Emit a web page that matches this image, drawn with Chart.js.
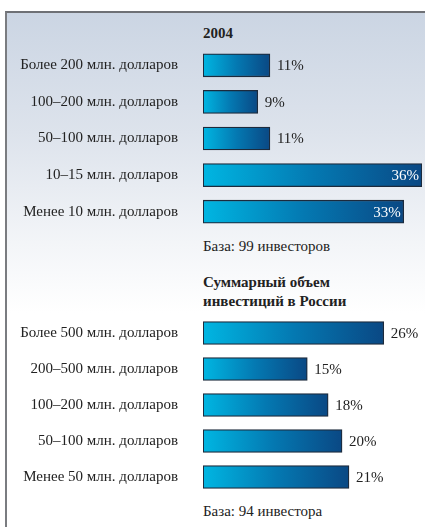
<!DOCTYPE html>
<html>
<head>
<meta charset="utf-8">
<script src="https://cdn.jsdelivr.net/npm/chart.js"></script>
<style>
  body { margin: 0; background: #fff; }
  #wrap { position: relative; width: 425px; height: 527px; overflow: hidden; background: #fff; }
  #frame {
    position: absolute; left: 5px; top: 11px; right: -2px; bottom: -2px;
    border-top: 2px solid #6e7075; border-left: 2px solid #7a7c80;
    background: linear-gradient(#cbd5e3 0px, #dde3ec 120px, #f3f5f8 230px, #ffffff 300px);
  }
  .txt { position: absolute; left: 203px; font-family: "Liberation Serif", "DejaVu Serif", serif; color: #222; font-size: 15px; line-height: 19px; }
  .bold { font-weight: bold; }
  .box { position: absolute; left: 0; width: 425px; }
</style>
</head>
<body>
<div id="wrap">
  <div id="frame"></div>
  <div class="txt bold" style="top:24px">2004</div>
  <div class="txt" style="top:237px">База: 99 инвесторов</div>
  <div class="txt bold" style="top:273px">Суммарный объем<br>инвестиций в России</div>
  <div class="txt" style="top:502px">База: 94 инвестора</div>
  <div class="box" style="top:47px; height:183px"><canvas id="chart1"></canvas></div>
  <div class="box" style="top:315px; height:180px"><canvas id="chart2"></canvas></div>
</div>
<script>
// 2004: размер компаний-инвесторов
const labels2004 = ["Более 200 млн. долларов", "100–200 млн. долларов", "50–100 млн. долларов", "10–15 млн. долларов", "Менее 10 млн. долларов"];
const values2004 = [11, 9, 11, 36, 33];

// Суммарный объем инвестиций в России
const labelsRussia = ["Более 500 млн. долларов", "200–500 млн. долларов", "100–200 млн. долларов", "50–100 млн. долларов", "Менее 50 млн. долларов"];
const valuesRussia = [26, 15, 18, 20, 21];

const serif = 'Liberation Serif';

// gradient for each bar, from its own start to its own end
function barGradient(ctx) {
  const chart = ctx.chart;
  if (!chart.chartArea) return '#0073b0';
  const x = chart.scales.x;
  const x0 = x.getPixelForValue(0);
  const x1 = x.getPixelForValue(ctx.raw);
  const g = chart.ctx.createLinearGradient(x0, 0, x1, 0);
  g.addColorStop(0, '#00b6e2');
  g.addColorStop(0.5, '#0479b2');
  g.addColorStop(1, '#0a4884');
  return g;
}

// percent labels: inside (white) for long bars, outside otherwise
const valueLabels = {
  id: 'valueLabels',
  afterDatasetsDraw(chart) {
    const c = chart.ctx;
    const meta = chart.getDatasetMeta(0);
    const data = chart.data.datasets[0].data;
    c.save();
    c.font = '15px ' + serif;
    c.textBaseline = 'middle';
    meta.data.forEach((bar, i) => {
      const txt = data[i] + '%';
      if (data[i] > 30) {
        c.fillStyle = '#ffffff';
        c.textAlign = 'right';
        c.fillText(txt, bar.x - 3, bar.y + 1);
      } else {
        c.fillStyle = '#222';
        c.textAlign = 'left';
        c.fillText(txt, bar.x + 7, bar.y + 1);
      }
    });
    c.restore();
  }
};

function makeChart(id, labels, values, maxX) {
  return new Chart(document.getElementById(id), {
    type: 'bar',
    data: {
      labels: labels,
      datasets: [{
        data: values,
        backgroundColor: barGradient,
        borderColor: '#1c2a3c',
        borderWidth: 1.3,
        borderSkipped: false,
        barThickness: 23
      }]
    },
    options: {
      indexAxis: 'y',
      responsive: true,
      maintainAspectRatio: false,
      animation: false,
      layout: { padding: { left: 0, right: 3, top: 0, bottom: 0 } },
      plugins: { legend: { display: false }, tooltip: { enabled: false } },
      scales: {
        x: { display: false, min: 0, max: maxX },
        y: {
          grid: { display: false, drawTicks: false },
          border: { display: false },
          ticks: { color: '#222', padding: 25, font: { family: serif, size: 15 } },
          afterFit(scale) {
            scale.width = 203;
            scale.paddingTop = 0;
            scale.paddingBottom = 0;
          }
        }
      }
    },
    plugins: [valueLabels]
  });
}

makeChart('chart1', labels2004, values2004, 36);
makeChart('chart2', labelsRussia, valuesRussia, 31.5);
</script>
</body>
</html>
